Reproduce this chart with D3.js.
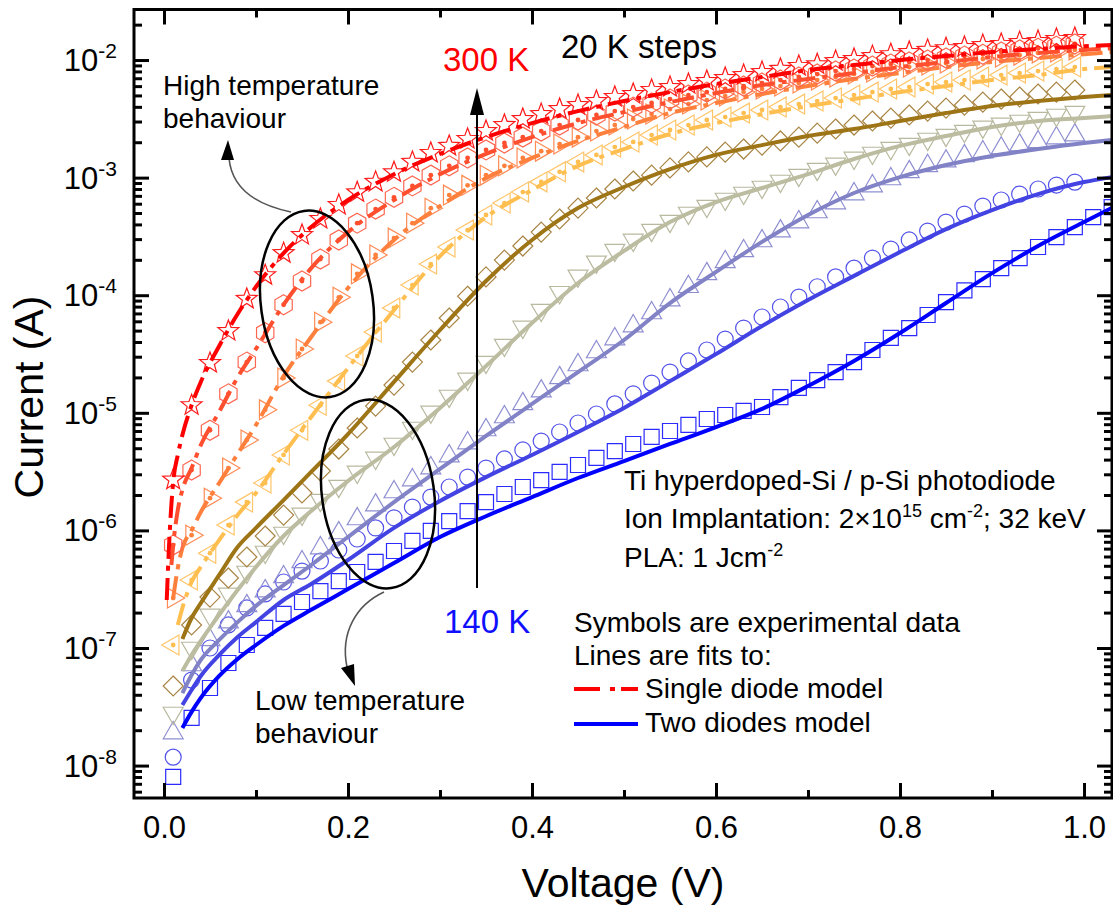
<!DOCTYPE html>
<html>
<head>
<meta charset="utf-8">
<script src="https://cdn.jsdelivr.net/npm/d3@7"></script>
<style>
  body { margin: 0; background: #fff; }
  text { font-family: "Liberation Sans", Arial, Helvetica, sans-serif; }
</style>
</head>
<body>
<svg id="chart" width="1113" height="910"></svg>
<script>
// ---------------- data ----------------
// Bias voltage of each measured point (V)
const voltage = [0.01, 0.03, 0.05, 0.07, 0.09, 0.11, 0.13, 0.15, 0.17, 0.19,
  0.21, 0.23, 0.25, 0.27, 0.29, 0.31, 0.33, 0.35, 0.37, 0.39,
  0.41, 0.43, 0.45, 0.47, 0.49, 0.51, 0.53, 0.55, 0.57, 0.59,
  0.61, 0.63, 0.65, 0.67, 0.69, 0.71, 0.73, 0.75, 0.77, 0.79,
  0.81, 0.83, 0.85, 0.87, 0.89, 0.91, 0.93, 0.95, 0.97, 0.99,
  1.01, 1.03];

const temperatures = [300, 280, 260, 240, 220, 200, 180, 160, 140];

// Measured forward current (A) at each temperature
const cur300 = [2.7e-6, 1.16e-5, 2.65e-5, 4.96e-5, 9.3e-5, 1.48e-4, 2.28e-4, 3.25e-4, 4.45e-4, 5.85e-4,
  7.5e-4, 9.2e-4, 1.11e-3, 1.36e-3, 1.62e-3, 1.86e-3, 2.13e-3, 2.49e-3, 2.8e-3, 3.15e-3,
  3.47e-3, 3.83e-3, 4.14e-3, 4.48e-3, 4.85e-3, 5.14e-3, 5.56e-3, 5.89e-3, 6.25e-3, 6.63e-3,
  7.03e-3, 7.45e-3, 7.9e-3, 8.4e-3, 8.9e-3, 9.2e-3, 9.8e-3, 1.02e-2, 1.08e-2, 1.12e-2,
  1.17e-2, 1.22e-2, 1.26e-2, 1.29e-2, 1.34e-2, 1.37e-2, 1.42e-2, 1.45e-2, 1.51e-2, 1.54e-2];
const cur280 = [7.5e-7, 3.26e-6, 7.1e-6, 1.45e-5, 2.7e-5, 4.8e-5, 8.3e-5, 1.32e-4, 2.03e-4, 2.95e-4,
  4.1e-4, 5.4e-4, 6.8e-4, 8.5e-4, 1.05e-3, 1.26e-3, 1.47e-3, 1.72e-3, 1.97e-3, 2.21e-3,
  2.49e-3, 2.8e-3, 3.09e-3, 3.41e-3, 3.68e-3, 3.98e-3, 4.31e-3, 4.66e-3, 5.04e-3, 5.34e-3,
  5.67e-3, 6.01e-3, 6.37e-3, 6.76e-3, 7.17e-3, 7.6e-3, 8.06e-3, 8.38e-3, 8.89e-3, 9.25e-3,
  9.62e-3, 1.0e-2, 1.04e-2, 1.08e-2, 1.12e-2, 1.17e-2, 1.22e-2, 1.26e-2, 1.31e-2, 1.37e-2];
const cur260 = [2.66e-7, 9.1e-7, 1.88e-6, 3.39e-6, 5.87e-6, 1.06e-5, 1.98e-5, 3.49e-5, 5.9e-5, 9.6e-5,
  1.52e-4, 2.2e-4, 3.06e-4, 4.1e-4, 5.5e-4, 7.1e-4, 8.6e-4, 1.05e-3, 1.26e-3, 1.47e-3,
  1.68e-3, 1.93e-3, 2.21e-3, 2.49e-3, 2.8e-3, 3.15e-3, 3.47e-3, 3.83e-3, 4.22e-3, 4.57e-3,
  4.94e-3, 5.34e-3, 5.67e-3, 6.01e-3, 6.37e-3, 6.76e-3, 7.17e-3, 7.6e-3, 7.91e-3, 8.38e-3,
  8.72e-3, 9.07e-3, 9.43e-3, 9.8e-3, 1.02e-2, 1.06e-2, 1.10e-2, 1.15e-2, 1.17e-2, 1.22e-2];
const cur240 = [1.06e-7, 3.78e-7, 6.4e-7, 1.11e-6, 1.74e-6, 2.53e-6, 4.38e-6, 7.1e-6, 1.16e-5, 1.86e-5,
  3.04e-5, 4.86e-5, 7.8e-5, 1.22e-4, 1.84e-4, 2.57e-4, 3.58e-4, 4.81e-4, 6.08e-4, 7.54e-4,
  9.2e-4, 1.12e-3, 1.36e-3, 1.56e-3, 1.82e-3, 2.01e-3, 2.30e-3, 2.54e-3, 2.80e-3, 3.09e-3,
  3.27e-3, 3.54e-3, 3.76e-3, 3.98e-3, 4.22e-3, 4.48e-3, 4.75e-3, 5.04e-3, 5.34e-3, 5.67e-3,
  5.89e-3, 6.25e-3, 6.50e-3, 6.76e-3, 7.17e-3, 7.45e-3, 7.75e-3, 8.06e-3, 8.38e-3, 8.72e-3];
const cur220 = [4.75e-8, 1.57e-7, 2.71e-7, 3.94e-7, 5.94e-7, 8.96e-7, 1.35e-6, 2.08e-6, 3.20e-6, 4.92e-6,
  7.43e-6, 1.14e-5, 1.72e-5, 2.70e-5, 4.16e-5, 6.4e-5, 9.8e-5, 1.43e-4, 1.99e-4, 2.62e-4,
  3.44e-4, 4.45e-4, 5.51e-4, 6.71e-4, 8.0e-4, 9.36e-4, 1.05e-3, 1.21e-3, 1.36e-3, 1.50e-3,
  1.65e-3, 1.75e-3, 1.89e-3, 2.05e-3, 2.21e-3, 2.39e-3, 2.59e-3, 2.80e-3, 3.03e-3, 3.21e-3,
  3.41e-3, 3.68e-3, 3.90e-3, 4.14e-3, 4.39e-3, 4.66e-3, 4.85e-3, 5.14e-3, 5.34e-3, 5.56e-3];
const cur200 = [2.80e-8, 1.0e-7, 1.91e-7, 2.88e-7, 4.43e-7, 6.55e-7, 9.5e-7, 1.38e-6, 1.81e-6, 2.38e-6,
  3.14e-6, 4.13e-6, 5.43e-6, 7.43e-6, 1.02e-5, 1.39e-5, 1.94e-5, 2.70e-5, 3.77e-5, 5.37e-5,
  7.48e-5, 1.06e-4, 1.46e-4, 1.92e-4, 2.42e-4, 2.95e-4, 3.58e-4, 4.27e-4, 5.0e-4, 5.73e-4,
  6.58e-4, 7.40e-4, 8.32e-4, 9.36e-4, 1.05e-3, 1.18e-3, 1.31e-3, 1.47e-3, 1.62e-3, 1.78e-3,
  1.93e-3, 2.13e-3, 2.30e-3, 2.49e-3, 2.70e-3, 2.86e-3, 3.03e-3, 3.21e-3, 3.41e-3, 3.61e-3];
const cur180 = [1.89e-8, 7.17e-8, 1.17e-7, 1.66e-7, 2.28e-7, 3.05e-7, 4.02e-7, 5.39e-7, 7.08e-7, 9.5e-7,
  1.25e-6, 1.64e-6, 2.12e-6, 2.68e-6, 3.39e-6, 4.29e-6, 5.53e-6, 7.14e-6, 9.21e-6, 1.19e-5,
  1.53e-5, 1.98e-5, 2.55e-5, 3.29e-5, 4.24e-5, 5.47e-5, 7.06e-5, 9.1e-5, 1.18e-4, 1.52e-4,
  1.92e-4, 2.38e-4, 2.89e-4, 3.51e-4, 4.19e-4, 5.10e-4, 6.08e-4, 7.25e-4, 8.48e-4, 9.73e-4,
  1.12e-3, 1.26e-3, 1.38e-3, 1.53e-3, 1.65e-3, 1.78e-3, 1.89e-3, 2.01e-3, 2.17e-3, 2.30e-3];
const cur160 = [1.18e-8, 5.34e-8, 1.0e-7, 1.57e-7, 2.19e-7, 2.88e-7, 3.64e-7, 4.51e-7, 5.49e-7, 6.81e-7,
  8.45e-7, 1.05e-6, 1.28e-6, 1.58e-6, 1.92e-6, 2.34e-6, 2.84e-6, 3.39e-6, 4.05e-6, 4.83e-6,
  5.75e-6, 6.87e-6, 8.19e-6, 9.77e-6, 1.19e-5, 1.45e-5, 1.79e-5, 2.22e-5, 2.76e-5, 3.42e-5,
  4.24e-5, 5.26e-5, 6.53e-5, 7.94e-5, 9.65e-5, 1.18e-4, 1.43e-4, 1.70e-4, 2.07e-4, 2.47e-4,
  2.95e-4, 3.51e-4, 4.19e-4, 4.90e-4, 5.73e-4, 6.45e-4, 7.25e-4, 8.00e-4, 8.65e-4, 9.17e-4];
const cur140 = [8.0e-9, 2.54e-8, 4.57e-8, 7.45e-8, 1.06e-7, 1.48e-7, 1.95e-7, 2.46e-7, 3.05e-7, 3.71e-7,
  4.43e-7, 5.39e-7, 6.68e-7, 8.13e-7, 9.9e-7, 1.20e-6, 1.46e-6, 1.74e-6, 2.04e-6, 2.34e-6,
  2.68e-6, 3.14e-6, 3.60e-6, 4.13e-6, 4.73e-6, 5.43e-6, 6.23e-6, 7.00e-6, 7.88e-6, 8.86e-6,
  9.58e-6, 1.04e-5, 1.12e-5, 1.36e-5, 1.63e-5, 1.90e-5, 2.22e-5, 2.70e-5, 3.42e-5, 4.33e-5,
  5.26e-5, 6.79e-5, 8.75e-5, 1.10e-4, 1.37e-4, 1.70e-4, 2.07e-4, 2.57e-4, 3.12e-4, 3.80e-4,
  4.62e-4, 5.62e-4];

// Single diode model fits (300 K - 240 K); null where the fit is not drawn
const fitVoltageSingle = [0.003, 0.005, 0.008, 0.01, 0.015, 0.02, 0.03, 0.04, 0.06, 0.08,
  0.10, 0.13, 0.16, 0.20, 0.25, 0.30, 0.35, 0.40, 0.45, 0.50,
  0.55, 0.60, 0.65, 0.70, 0.75, 0.80, 0.85, 0.90, 0.95, 1.00, 1.03];
const fit300 = [2.56e-7, 6.18e-7, 1.64e-6, 2.58e-6, 4.38e-6, 6.48e-6, 1.16e-5, 1.83e-5, 3.70e-5, 6.92e-5,
  1.18e-4, 2.28e-4, 3.80e-4, 6.45e-4, 1.07e-3, 1.59e-3, 2.21e-3, 2.91e-3, 3.68e-3, 4.48e-3,
  5.34e-3, 6.25e-3, 7.17e-3, 8.22e-3, 9.07e-3, 1.00e-2, 1.08e-2, 1.17e-2, 1.24e-2, 1.31e-2, 1.34e-2];
const fit280 = [null, null, 5.08e-7, 7.52e-7, 1.49e-6, 2.21e-6, 3.39e-6, 5.32e-6, 1.02e-5, 2.0e-5,
  3.5e-5, 8.3e-5, 1.70e-4, 3.44e-4, 6.45e-4, 1.07e-3, 1.59e-3, 2.21e-3, 2.91e-3, 3.61e-3,
  4.39e-3, 5.24e-3, 6.13e-3, 6.89e-3, 7.75e-3, 8.72e-3, 9.62e-3, 1.06e-2, 1.15e-2, 1.22e-2, 1.26e-2];
const fit260 = [null, null, null, 2.66e-7, 4.78e-7, 7.08e-7, 1.00e-6, 1.43e-6, 2.53e-6, 4.46e-6,
  7.88e-6, 2.05e-5, 4.41e-5, 1.15e-4, 2.95e-4, 5.73e-4, 9.9e-4, 1.47e-3, 2.05e-3, 2.70e-3,
  3.54e-3, 4.31e-3, 5.14e-3, 6.01e-3, 6.89e-3, 7.75e-3, 8.72e-3, 9.62e-3, 1.04e-2, 1.12e-2, 1.17e-2];
const fit240 = [null, null, null, null, 1.57e-7, 2.19e-7, 3.64e-7, 4.89e-7, 8.29e-7, 1.35e-6,
  2.08e-6, 4.46e-6, 9.21e-6, 2.40e-5, 7.48e-5, 2.15e-4, 4.62e-4, 7.84e-4, 1.26e-3, 1.75e-3,
  2.35e-3, 2.91e-3, 3.47e-3, 4.06e-3, 4.66e-3, 5.34e-3, 6.01e-3, 6.76e-3, 7.45e-3, 8.38e-3, 8.72e-3];

// Two diodes model fits (220 K - 140 K)
const fitVoltageDouble = [0.02, 0.03, 0.04, 0.06, 0.08, 0.10, 0.13, 0.16, 0.20, 0.25,
  0.30, 0.35, 0.40, 0.45, 0.50, 0.55, 0.60, 0.65, 0.70, 0.75,
  0.80, 0.85, 0.90, 0.95, 1.00, 1.03];
const fit220 = [1.19e-7, 1.80e-7, 2.41e-7, 4.18e-7, 7.22e-7, 1.05e-6, 1.81e-6, 3.14e-6, 6.60e-6, 1.83e-5,
  5.06e-5, 1.32e-4, 2.95e-4, 5.51e-4, 8.32e-4, 1.18e-3, 1.56e-3, 1.89e-3, 2.26e-3, 2.59e-3,
  3.03e-3, 3.54e-3, 4.06e-3, 4.48e-3, 4.85e-3, 5.04e-3];
const fit200 = [6.37e-8, 8.72e-8, 1.15e-7, 1.91e-7, 3.11e-7, 4.89e-7, 8.96e-7, 1.46e-6, 2.63e-6, 5.12e-6,
  1.10e-5, 2.50e-5, 5.80e-5, 1.27e-4, 2.38e-4, 4.19e-4, 6.20e-4, 8.16e-4, 1.07e-3, 1.44e-3,
  1.86e-3, 2.26e-3, 2.70e-3, 3.03e-3, 3.21e-3, 3.34e-3];
const fit180 = [4.14e-8, 5.89e-8, 7.91e-8, 1.17e-7, 1.66e-7, 2.28e-7, 3.43e-7, 5.08e-7, 8.79e-7, 1.74e-6,
  3.33e-6, 6.35e-6, 1.19e-5, 2.22e-5, 4.16e-5, 8.58e-5, 1.58e-4, 2.84e-4, 4.81e-4, 7.40e-4,
  1.01e-3, 1.28e-3, 1.53e-3, 1.75e-3, 1.97e-3, 2.09e-3];
const fit160 = [3.27e-8, 4.39e-8, 5.78e-8, 8.72e-8, 1.24e-7, 1.66e-7, 2.56e-7, 3.50e-7, 5.60e-7, 1.05e-6,
  1.78e-6, 2.84e-6, 4.38e-6, 6.87e-6, 1.10e-5, 1.86e-5, 3.16e-5, 5.47e-5, 9.10e-5, 1.46e-4,
  2.33e-4, 3.65e-4, 5.30e-4, 7.25e-4, 9.17e-4, 1.01e-3];
const fit140 = [2.09e-8, 2.86e-8, 3.76e-8, 5.78e-8, 8.06e-8, 1.06e-7, 1.54e-7, 2.11e-7, 3.17e-7, 5.28e-7,
  8.79e-7, 1.32e-6, 1.92e-6, 2.79e-6, 3.89e-6, 5.43e-6, 7.57e-6, 1.08e-5, 1.69e-5, 2.76e-5,
  4.77e-5, 8.58e-5, 1.54e-4, 2.62e-4, 4.19e-4, 5.51e-4];

// Axis ticks
const xMajorTicks = [0.0, 0.2, 0.4, 0.6, 0.8, 1.0];
const xMinorTicks = [0.1, 0.3, 0.5, 0.7, 0.9];
const yMajorTicks = [1e-8, 1e-7, 1e-6, 1e-5, 1e-4, 1e-3, 1e-2];

// ---------------- layout ----------------
const plot = { left: 134, right: 1112, top: 9.5, bottom: 798 };
const svg = d3.select("#chart");

const x = d3.scaleLinear().domain([-0.0326, 1.0304]).range([plot.left, plot.right]);
const y = d3.scaleLog().domain([5.30e-9, 2.69e-2]).range([plot.bottom, plot.top]);

const yMinorTicks = [];
for (let e = -9; e <= -2; e++) {
  for (let m = 2; m <= 9; m++) {
    const v = m * Math.pow(10, e);
    if (v > y.domain()[0] && v < y.domain()[1]) yMinorTicks.push(v);
  }
}

// series table: symbols, colours and fit models
const seriesTable = [
  { t: 140, data: cur140, fitV: fitVoltageDouble, fit: fit140, shape: "square",   color: "#0000ff", mark: "#2b2bff", dashed: false, dot: false },
  { t: 160, data: cur160, fitV: fitVoltageDouble, fit: fit160, shape: "circle",   color: "#4343e3", mark: "#5252ea", dashed: false, dot: false },
  { t: 180, data: cur180, fitV: fitVoltageDouble, fit: fit180, shape: "triUp",    color: "#8282c6", mark: "#8e8ed2", dashed: false, dot: false },
  { t: 200, data: cur200, fitV: fitVoltageDouble, fit: fit200, shape: "triDown",  color: "#bcbca0", mark: "#b9b99f", dashed: false, dot: false },
  { t: 220, data: cur220, fitV: fitVoltageDouble, fit: fit220, shape: "diamond",  color: "#9e7516", mark: "#a98544", dashed: false, dot: false },
  { t: 240, data: cur240, fitV: fitVoltageSingle, fit: fit240, shape: "triLeft",  color: "#ffbf50", mark: "#ffc56a", dashed: true,  dot: true },
  { t: 260, data: cur260, fitV: fitVoltageSingle, fit: fit260, shape: "triRight", color: "#ff803c", mark: "#ff8b55", dashed: true,  dot: true },
  { t: 280, data: cur280, fitV: fitVoltageSingle, fit: fit280, shape: "hexagon",  color: "#ff4f2e", mark: "#ff6650", dashed: true,  dot: true },
  { t: 300, data: cur300, fitV: fitVoltageSingle, fit: fit300, shape: "star",     color: "#ff0000", mark: "#ff1a1a", dashed: true,  dot: false }
];

// open symbol outlines centred on (0,0)
function polygon(pts) { return "M" + pts.map(p => p[0].toFixed(2) + "," + p[1].toFixed(2)).join("L") + "Z"; }
function regular(n, r, rot) {
  const pts = [];
  for (let i = 0; i < n; i++) { const a = rot + i * 2 * Math.PI / n; pts.push([r * Math.cos(a), r * Math.sin(a)]); }
  return pts;
}
const shapes = {
  square: polygon([[-7.5, -7.5], [7.5, -7.5], [7.5, 7.5], [-7.5, 7.5]]),
  circle: "M8,0A8,8 0 1,1 -8,0A8,8 0 1,1 8,0Z",
  triUp: polygon(regular(3, 11.5, -Math.PI / 2)),
  triDown: polygon(regular(3, 11.5, Math.PI / 2)),
  triLeft: polygon(regular(3, 11.5, Math.PI)),
  triRight: polygon(regular(3, 11.5, 0)),
  diamond: polygon([[0, -10], [10, 0], [0, 10], [-10, 0]]),
  hexagon: polygon(regular(6, 10, -Math.PI / 2)),
  star: (() => {
    const pts = [];
    for (let i = 0; i < 10; i++) {
      const r = i % 2 === 0 ? 11 : 4.6;
      const a = -Math.PI / 2 + i * Math.PI / 5;
      pts.push([r * Math.cos(a), r * Math.sin(a)]);
    }
    return polygon(pts);
  })()
};

// ---------------- plot content ----------------
svg.append("defs").append("clipPath").attr("id", "plotClip")
  .append("rect")
  .attr("x", plot.left).attr("y", plot.top)
  .attr("width", plot.right - plot.left).attr("height", plot.bottom - plot.top);

const content = svg.append("g").attr("clip-path", "url(#plotClip)");

const fitLine = d3.line()
  .defined(d => d[1] != null)
  .x(d => x(d[0]))
  .y(d => y(d[1]))
  .curve(d3.curveMonotoneX);

seriesTable.forEach(s => {
  const g = content.append("g").attr("class", "series-" + s.t);
  const pts = s.data.map((v, i) => [voltage[i], v]);

  const marks = g.selectAll("g.mark").data(pts).join("g")
    .attr("class", "mark")
    .attr("transform", d => `translate(${x(d[0])},${y(d[1])})`);
  marks.append("path")
    .attr("d", shapes[s.shape])
    .attr("fill", "none")
    .attr("stroke", s.mark)
    .attr("stroke-width", 1.2);
  if (s.dot) {
    marks.append("circle").attr("r", 2.4).attr("fill", s.color);
  }

  g.append("path")
    .datum(s.fitV.map((v, i) => [v, s.fit[i]]))
    .attr("d", fitLine)
    .attr("fill", "none")
    .attr("stroke", s.color)
    .attr("stroke-width", 4)
    .attr("stroke-dasharray", s.dashed ? "22,7,5,7" : null);
});

// ---------------- axes ----------------
function styleAxis(sel) {
  sel.select(".domain").remove();
  sel.selectAll(".tick line").attr("stroke", "#000").attr("stroke-width", 3);
}

// bottom
svg.append("g").attr("transform", `translate(0,${plot.bottom})`)
  .call(d3.axisBottom(x).tickValues(xMajorTicks).tickSize(-15).tickSizeOuter(0)
    .tickPadding(18).tickFormat(d3.format(".1f")))
  .call(styleAxis)
  .call(g => g.selectAll("text").attr("font-size", 31).attr("fill", "#000")
    .attr("font-family", '"Liberation Sans", Arial, sans-serif'));
svg.append("g").attr("transform", `translate(0,${plot.bottom})`)
  .call(d3.axisBottom(x).tickValues(xMinorTicks).tickSize(-8).tickSizeOuter(0).tickFormat(""))
  .call(styleAxis);
// top
svg.append("g").attr("transform", `translate(0,${plot.top})`)
  .call(d3.axisTop(x).tickValues(xMajorTicks).tickSize(-15).tickSizeOuter(0).tickFormat(""))
  .call(styleAxis);
svg.append("g").attr("transform", `translate(0,${plot.top})`)
  .call(d3.axisTop(x).tickValues(xMinorTicks).tickSize(-8).tickSizeOuter(0).tickFormat(""))
  .call(styleAxis);
// left
svg.append("g").attr("transform", `translate(${plot.left},0)`)
  .call(d3.axisLeft(y).tickValues(yMajorTicks).tickSize(-15).tickSizeOuter(0).tickFormat(""))
  .call(styleAxis);
svg.append("g").attr("transform", `translate(${plot.left},0)`)
  .call(d3.axisLeft(y).tickValues(yMinorTicks).tickSize(-8).tickSizeOuter(0).tickFormat(""))
  .call(styleAxis);
// right
svg.append("g").attr("transform", `translate(${plot.right},0)`)
  .call(d3.axisRight(y).tickValues(yMajorTicks).tickSize(-15).tickSizeOuter(0).tickFormat(""))
  .call(styleAxis);
svg.append("g").attr("transform", `translate(${plot.right},0)`)
  .call(d3.axisRight(y).tickValues(yMinorTicks).tickSize(-8).tickSizeOuter(0).tickFormat(""))
  .call(styleAxis);

// frame
svg.append("rect")
  .attr("x", plot.left).attr("y", plot.top)
  .attr("width", plot.right - plot.left).attr("height", plot.bottom - plot.top)
  .attr("fill", "none").attr("stroke", "#000").attr("stroke-width", 3);

// y tick labels as powers of ten
const yLabels = svg.append("g").attr("text-anchor", "end");
yMajorTicks.forEach(v => {
  const t = yLabels.append("text")
    .attr("x", 117).attr("y", y(v) + 11)
    .attr("font-size", 31).attr("fill", "#000");
  t.append("tspan").text("10");
  t.append("tspan").attr("font-size", 21).attr("dy", -13).text(String(Math.round(Math.log10(v))));
});

// axis titles
svg.append("text")
  .attr("x", 623).attr("y", 897)
  .attr("text-anchor", "middle").attr("font-size", 41).attr("fill", "#000")
  .text("Voltage (V)");
svg.append("text")
  .attr("transform", "translate(43,397) rotate(-90)")
  .attr("text-anchor", "middle").attr("font-size", 41).attr("fill", "#000")
  .text("Current (A)");

// ---------------- annotations ----------------
const ann = svg.append("g");

// temperature sweep arrow
ann.append("line")
  .attr("x1", 477).attr("y1", 588).attr("x2", 477).attr("y2", 108)
  .attr("stroke", "#000").attr("stroke-width", 2);
ann.append("path").attr("d", "M477,88L470,115L484,115Z").attr("fill", "#000");

ann.append("text").attr("x", 443).attr("y", 71).attr("font-size", 33).attr("fill", "#ff0000").text("300 K");
ann.append("text").attr("x", 444).attr("y", 633).attr("font-size", 33).attr("fill", "#1010ff").text("140 K");
ann.append("text").attr("x", 561).attr("y", 58).attr("font-size", 33).attr("fill", "#000").text("20 K steps");

// behaviour regions
ann.append("ellipse")
  .attr("cx", 317).attr("cy", 304).attr("rx", 56).attr("ry", 94)
  .attr("transform", "rotate(-8,317,304)")
  .attr("fill", "none").attr("stroke", "#000").attr("stroke-width", 2.5);
ann.append("ellipse")
  .attr("cx", 378).attr("cy", 494).attr("rx", 56).attr("ry", 95)
  .attr("transform", "rotate(-8,378,494)")
  .attr("fill", "none").attr("stroke", "#000").attr("stroke-width", 2.5);

ann.append("path").attr("d", "M291,212C262,206 232,192 229,158")
  .attr("fill", "none").attr("stroke", "#555").attr("stroke-width", 1.6);
ann.append("path").attr("d", "M228,140L221,160L234,160Z").attr("fill", "#000");

ann.append("path").attr("d", "M384,592C356,605 340,633 347,667")
  .attr("fill", "none").attr("stroke", "#555").attr("stroke-width", 1.6);
ann.append("path").attr("d", "M355,686L341,668L354,664Z").attr("fill", "#000");

function multiline(xp, yp, lines, size) {
  lines.forEach((l, i) => ann.append("text").attr("x", xp).attr("y", yp + i * 33)
    .attr("font-size", size).attr("fill", "#000").text(l));
}
multiline(163, 95, ["High temperature", "behaviour"], 28);
multiline(255, 710, ["Low temperature", "behaviour"], 28);

// sample description
ann.append("text").attr("x", 624).attr("y", 490).attr("font-size", 28).attr("fill", "#000")
  .text("Ti hyperdoped-Si / p-Si photodiode");
const ion = ann.append("text").attr("x", 624).attr("y", 528).attr("font-size", 28).attr("fill", "#000");
ion.append("tspan").text("Ion Implantation: 2\u00d710");
ion.append("tspan").attr("font-size", 18).attr("dy", -11).text("15");
ion.append("tspan").attr("dy", 11).text(" cm");
ion.append("tspan").attr("font-size", 18).attr("dy", -11).text("-2");
ion.append("tspan").attr("dy", 11).text("; 32 keV");
const pla = ann.append("text").attr("x", 624).attr("y", 567).attr("font-size", 28).attr("fill", "#000");
pla.append("tspan").text("PLA: 1 Jcm");
pla.append("tspan").attr("font-size", 18).attr("dy", -11).text("-2");

// legend
ann.append("text").attr("x", 574).attr("y", 632).attr("font-size", 28).attr("fill", "#000")
  .text("Symbols are experimental data");
ann.append("text").attr("x", 574).attr("y", 665).attr("font-size", 28).attr("fill", "#000")
  .text("Lines are fits to:");
ann.append("line").attr("x1", 574).attr("x2", 638).attr("y1", 689).attr("y2", 689)
  .attr("stroke", "#ff0000").attr("stroke-width", 4).attr("stroke-dasharray", "26,10,5,6");
ann.append("text").attr("x", 645).attr("y", 698).attr("font-size", 28).attr("fill", "#000")
  .text("Single diode model");
ann.append("line").attr("x1", 574).attr("x2", 638).attr("y1", 724).attr("y2", 724)
  .attr("stroke", "#0000ff").attr("stroke-width", 4);
ann.append("text").attr("x", 645).attr("y", 732).attr("font-size", 28).attr("fill", "#000")
  .text("Two diodes model");
</script>
</body>
</html>
